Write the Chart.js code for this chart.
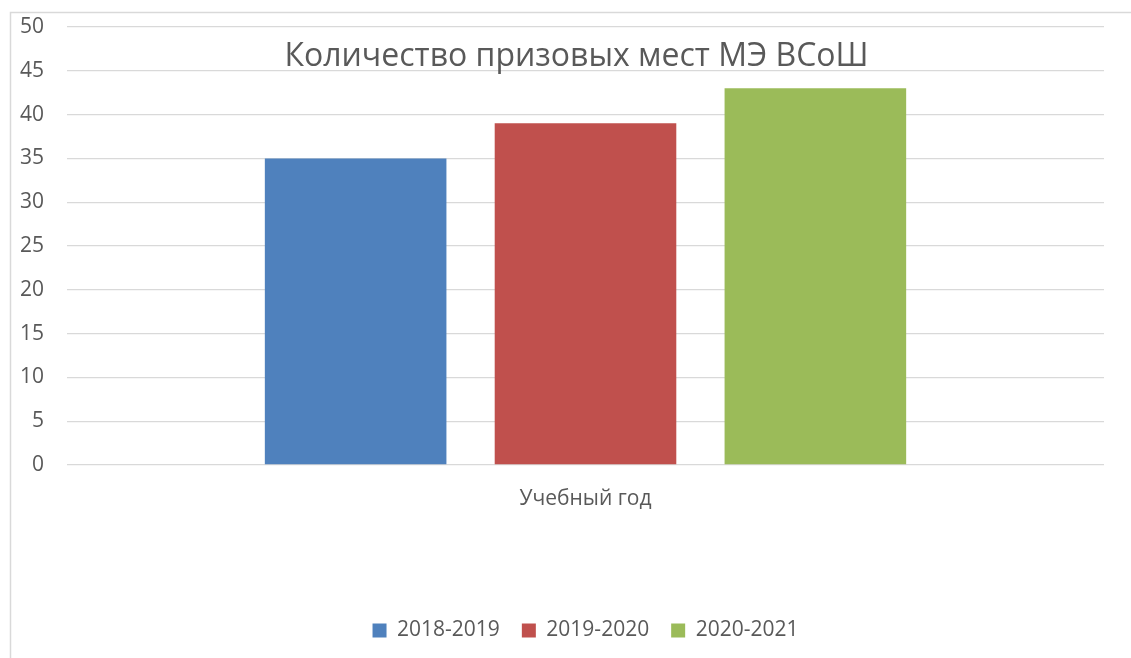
<!DOCTYPE html>
<html>
<head>
<meta charset="utf-8">
<title>Количество призовых мест МЭ ВСоШ</title>
<script src="https://cdn.jsdelivr.net/npm/chart.js@4/dist/chart.umd.min.js"></script>
<style>
  html, body { margin: 0; padding: 0; background: #ffffff; }
  #wrap { position: relative; width: 1131px; height: 658px; }
</style>
</head>
<body>
<div id="wrap"><canvas id="chart" width="1131" height="658"></canvas></div>
<script>
// chart data
var chartTitle = 'Количество призовых мест МЭ ВСоШ';
var categories = ['Учебный год'];
var seriesNames = ['2018-2019', '2019-2020', '2020-2021'];
var seriesValues = [[35], [39], [43]];
var seriesColors = ['#4f81bd', '#c0504d', '#9bbb59'];
var yTicks = { min: 0, max: 50, step: 5 };

var textColor = '#595959';
var gridColor = '#d9d9d9';
var fontFamily = '"Open Sans", "DejaVu Sans", sans-serif';

// outer frame and overlapping title (Excel draws the title over the plot area)
var framePlugin = {
    id: 'frame',
    beforeDraw: function(chart) {
        var ctx = chart.ctx;
        ctx.save();
        ctx.fillStyle = '#ffffff';
        ctx.fillRect(0, 0, chart.width, chart.height);
        ctx.strokeStyle = gridColor;
        ctx.lineWidth = 1.5;
        ctx.strokeRect(10.5, 12.5, chart.width + 20, chart.height + 20);
        ctx.restore();
    },
    afterDraw: function(chart) {
        var ctx = chart.ctx;
        ctx.save();
        ctx.font = '32px ' + fontFamily;
        ctx.fillStyle = textColor;
        ctx.textAlign = 'center';
        ctx.textBaseline = 'middle';
        ctx.fillText(chartTitle, chart.width / 2 + 11, 57);
        ctx.restore();
    }
};

var datasets = seriesNames.map(function(name, i) {
    return {
        label: name,
        data: seriesValues[i],
        backgroundColor: seriesColors[i],
        borderWidth: 0,
        categoryPercentage: 0.665,
        barPercentage: 0.79
    };
});

new Chart(document.getElementById('chart'), {
    type: 'bar',
    data: { labels: categories, datasets: datasets },
    plugins: [framePlugin],
    options: {
        responsive: false,
        animation: false,
        layout: { padding: { left: 0, right: 27, top: 27, bottom: 7 } },
        plugins: {
            title: { display: false },
            tooltip: { enabled: false },
            legend: {
                position: 'bottom',
                fullSize: false,
                labels: {
                    boxWidth: 14,
                    boxHeight: 14,
                    padding: 22,
                    color: textColor,
                    font: { family: fontFamily, size: 21 }
                }
            }
        },
        scales: {
            x: {
                grid: { display: false, drawTicks: false },
                border: { display: false },
                ticks: {
                    padding: 21,
                    color: textColor,
                    font: { family: fontFamily, size: 21 }
                },
                afterFit: function(scale) { scale.height = 133; }
            },
            y: {
                min: yTicks.min,
                max: yTicks.max,
                grid: { color: gridColor, lineWidth: 1.3, drawTicks: false },
                border: { display: false },
                ticks: {
                    stepSize: yTicks.step,
                    padding: 23,
                    color: textColor,
                    font: { family: fontFamily, size: 21 }
                },
                afterFit: function(scale) {
                    scale.width = 67;
                    scale.paddingTop = 0;
                    scale.paddingBottom = 0;
                }
            }
        }
    }
});
</script>
</body>
</html>
